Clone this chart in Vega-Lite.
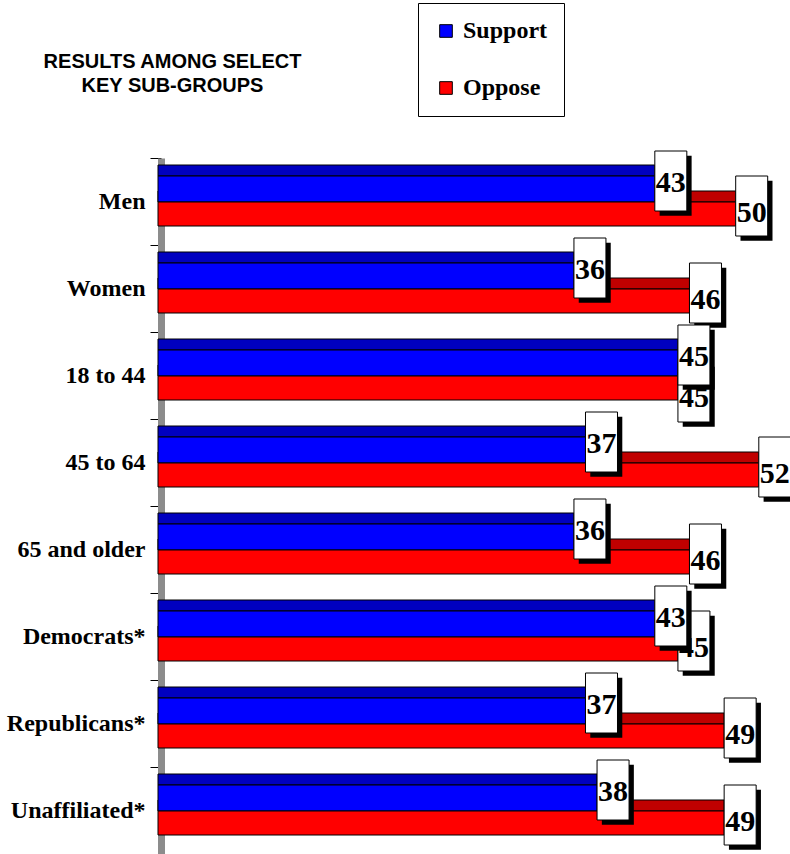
{
  "$schema": "https://vega.github.io/schema/vega-lite/v6.json",
  "autosize": {"type": "none"},
  "width": 632,
  "height": 696,
  "padding": {"left": 158, "top": 158, "right": 0, "bottom": 0},
  "background": "white",
  "config": {
    "view": {"stroke": null},
    "legend": {
      "orient": "none",
      "legendX": 260,
      "legendY": -155,
      "strokeColor": "black",
      "fillColor": "white",
      "padding": 16,
      "rowPadding": 33,
      "labelFont": "Liberation Serif, Times New Roman, serif",
      "labelFontWeight": "bold",
      "labelFontSize": 24,
      "labelColor": "black",
      "labelOffset": 5,
      "labelLimit": 200,
      "symbolType": "square",
      "symbolSize": 160,
      "symbolStrokeColor": "black",
      "symbolStrokeWidth": 1,
      "symbolOpacity": 1
    }
  },
  "data": {
    "values": [
      {"group": "Men", "series": "Support", "value": 43},
      {"group": "Men", "series": "Oppose", "value": 50},
      {"group": "Women", "series": "Support", "value": 36},
      {"group": "Women", "series": "Oppose", "value": 46},
      {"group": "18 to 44", "series": "Support", "value": 45},
      {"group": "18 to 44", "series": "Oppose", "value": 45},
      {"group": "45 to 64", "series": "Support", "value": 37},
      {"group": "45 to 64", "series": "Oppose", "value": 52},
      {"group": "65 and older", "series": "Support", "value": 36},
      {"group": "65 and older", "series": "Oppose", "value": 46},
      {"group": "Democrats*", "series": "Support", "value": 43},
      {"group": "Democrats*", "series": "Oppose", "value": 45},
      {"group": "Republicans*", "series": "Support", "value": 37},
      {"group": "Republicans*", "series": "Oppose", "value": 49},
      {"group": "Unaffiliated*", "series": "Support", "value": 38},
      {"group": "Unaffiliated*", "series": "Oppose", "value": 49}
    ]
  },
  "encoding": {
    "y": {
      "field": "group",
      "type": "nominal",
      "sort": ["Men", "Women", "18 to 44", "45 to 64", "65 and older", "Democrats*", "Republicans*", "Unaffiliated*"],
      "scale": {"paddingInner": 0, "paddingOuter": 0},
      "axis": {
        "title": ["RESULTS AMONG SELECT", "KEY SUB-GROUPS"],
        "titleFont": "Liberation Sans, Arial, sans-serif",
        "titleFontSize": 20,
        "titleFontWeight": "bold",
        "titleColor": "black",
        "titleAngle": 0,
        "titleAlign": "center",
        "titleBaseline": "alphabetic",
        "titleLineHeight": 24,
        "titleX": 11,
        "titleY": -91,
        "offset": -3,
        "tickBand": "extent",
        "tickSize": 11,
        "tickColor": "black",
        "tickWidth": 1,
        "domainColor": "#8c8c8c",
        "domainWidth": 7,
        "labelFont": "Liberation Serif, Times New Roman, serif",
        "labelFontWeight": "bold",
        "labelFontSize": 24,
        "labelColor": "black",
        "labelPadding": 5,
        "labelLimit": 200
      }
    },
    "x": {
      "field": "value",
      "type": "quantitative",
      "stack": null,
      "scale": {"domain": [0, 54.7], "nice": false},
      "axis": null
    }
  },
  "layer": [
    {
      "transform": [{"filter": "datum.series === 'Oppose'"}],
      "mark": {"type": "bar", "height": 11, "yOffset": -5, "color": "#C00000", "stroke": "black", "strokeWidth": 1}
    },
    {
      "transform": [{"filter": "datum.series === 'Support'"}],
      "mark": {"type": "bar", "height": 11, "yOffset": -31, "color": "#0000C0", "stroke": "black", "strokeWidth": 1}
    },
    {
      "transform": [{"filter": "datum.series === 'Support'"}],
      "mark": {"type": "bar", "height": 26, "yOffset": -12.5, "stroke": "black", "strokeWidth": 1, "opacity": 1},
      "encoding": {
        "color": {
          "field": "series",
          "type": "nominal",
          "scale": {"domain": ["Support", "Oppose"], "range": ["#0000FF", "#FF0000"]},
          "legend": {"title": null}
        }
      }
    },
    {
      "transform": [{"filter": "datum.series === 'Oppose'"}],
      "mark": {"type": "bar", "height": 24, "yOffset": 12.5, "stroke": "black", "strokeWidth": 1, "opacity": 1},
      "encoding": {
        "color": {"field": "series", "type": "nominal"}
      }
    },
    {
      "transform": [{"filter": "datum.series === 'Oppose' && datum.group !== '18 to 44'"}],
      "mark": {"type": "point", "shape": "M0.3,-1.575H2.3V2.175H0.3Z", "size": 1024, "filled": true, "color": "black", "opacity": 1, "yOffset": 4.5}
    },
    {
      "transform": [{"filter": "datum.series === 'Oppose' && datum.group !== '18 to 44'"}],
      "mark": {"type": "point", "shape": "M0,-1.875H2V1.875H0Z", "size": 1024, "filled": true, "fill": "white", "stroke": "black", "strokeWidth": 1, "opacity": 1, "yOffset": 4.5}
    },
    {
      "transform": [{"filter": "datum.series === 'Oppose' && datum.group !== '18 to 44'"}],
      "mark": {"type": "text", "font": "Liberation Serif, Times New Roman, serif", "fontWeight": "bold", "fontSize": 30, "color": "black", "align": "center", "baseline": "middle", "xOffset": 16, "yOffset": 11},
      "encoding": {"text": {"field": "value", "type": "quantitative"}}
    },
    {
      "transform": [{"filter": "datum.series === 'Oppose' && datum.group === '18 to 44'"}],
      "mark": {"type": "point", "shape": "M0.3,-1.575H2.3V2.175H0.3Z", "size": 1024, "filled": true, "color": "black", "opacity": 1, "yOffset": 16.5}
    },
    {
      "transform": [{"filter": "datum.series === 'Oppose' && datum.group === '18 to 44'"}],
      "mark": {"type": "point", "shape": "M0,-1.875H2V1.875H0Z", "size": 1024, "filled": true, "fill": "white", "stroke": "black", "strokeWidth": 1, "opacity": 1, "yOffset": 16.5}
    },
    {
      "transform": [{"filter": "datum.series === 'Oppose' && datum.group === '18 to 44'"}],
      "mark": {"type": "text", "font": "Liberation Serif, Times New Roman, serif", "fontWeight": "bold", "fontSize": 30, "color": "black", "align": "center", "baseline": "middle", "xOffset": 16, "yOffset": 22},
      "encoding": {"text": {"field": "value", "type": "quantitative"}}
    },
    {
      "transform": [{"filter": "datum.series === 'Support'"}],
      "mark": {"type": "point", "shape": "M0.3,-1.575H2.3V2.175H0.3Z", "size": 1024, "filled": true, "color": "black", "opacity": 1, "yOffset": -20.5}
    },
    {
      "transform": [{"filter": "datum.series === 'Support'"}],
      "mark": {"type": "point", "shape": "M0,-1.875H2V1.875H0Z", "size": 1024, "filled": true, "fill": "white", "stroke": "black", "strokeWidth": 1, "opacity": 1, "yOffset": -20.5}
    },
    {
      "transform": [{"filter": "datum.series === 'Support'"}],
      "mark": {"type": "text", "font": "Liberation Serif, Times New Roman, serif", "fontWeight": "bold", "fontSize": 30, "color": "black", "align": "center", "baseline": "middle", "xOffset": 16, "yOffset": -19},
      "encoding": {"text": {"field": "value", "type": "quantitative"}}
    }
  ]
}
